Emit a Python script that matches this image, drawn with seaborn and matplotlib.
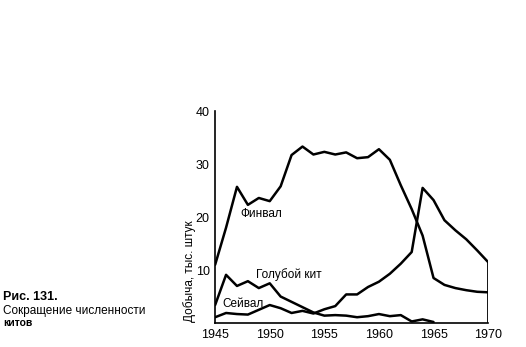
import numpy as np
import pandas as pd
import matplotlib
matplotlib.use("Agg")
import matplotlib.pyplot as plt
import seaborn as sns

years_fin = list(range(1945, 1971))
fin = [11, 18, 25.7, 22.3, 23.6, 23, 25.8, 31.7, 33.3, 31.8, 32.3, 31.8, 32.2,
       31.1, 31.3, 32.8, 30.8, 26, 21.5, 16.5, 8.5, 7.2, 6.6, 6.2, 5.9, 5.8]
years_sei = list(range(1945, 1971))
sei = [1.1, 1.9, 1.7, 1.6, 2.5, 3.4, 2.8, 1.9, 2.3, 1.8, 2.6, 3.2, 5.4, 5.4,
       6.8, 7.8, 9.3, 11.2, 13.4, 25.5, 23.2, 19.4, 17.5, 15.8, 13.7, 11.5]
years_blue = list(range(1945, 1966))
blue = [3.4, 9.1, 7.0, 7.9, 6.6, 7.5, 5.0, 4.0, 3.0, 2.0, 1.4, 1.5, 1.4, 1.1,
        1.3, 1.7, 1.3, 1.5, 0.3, 0.7, 0.2]

x_ticks = [1945, 1950, 1955, 1960, 1965, 1970]
y_ticks = [10, 20, 30, 40]
labels = {"fin": "Финвал", "blue": "Голубой кит", "sei": "Сейвал"}

df = pd.concat([
    pd.DataFrame({"year": years_fin, "catch": fin, "species": "fin"}),
    pd.DataFrame({"year": years_sei, "catch": sei, "species": "sei"}),
    pd.DataFrame({"year": years_blue, "catch": blue, "species": "blue"}),
])

sns.set_style("white")
plt.rcParams["font.family"] = ["Liberation Sans", "DejaVu Sans"]
plt.rcParams["text.color"] = "black"
plt.rcParams["xtick.color"] = "black"
plt.rcParams["ytick.color"] = "black"
plt.rcParams["axes.labelcolor"] = "black"

fig = plt.figure(figsize=(5.26, 3.47), dpi=100)
ax = fig.add_axes([0.409, 0.069, 0.519, 0.611])
sns.lineplot(data=df, x="year", y="catch", units="species", estimator=None,
             color="black", linewidth=1.8, ax=ax, legend=False)
ax.vlines(1970, 0, sei[-1], color="black", linewidth=1.3)

ax.set_xlim(1945, 1970)
ax.set_ylim(0, 40)
ax.set_xticks(x_ticks)
ax.set_yticks(y_ticks)
ax.tick_params(axis="x", direction="in", length=3, width=1, labelsize=9, pad=4)
ax.tick_params(axis="y", direction="out", length=3, width=1, labelsize=9, pad=1)
for s in ["top", "right"]:
    ax.spines[s].set_visible(False)
for s in ["left", "bottom"]:
    ax.spines[s].set_color("black")
    ax.spines[s].set_linewidth(1.2)
ax.set_xlabel("")
ax.set_ylabel("Добыча, тыс. штук", fontsize=8.5, va="center")
ax.yaxis.set_label_coords(-0.092, 0.245)
ax.set_facecolor("none")

ax.text(1947.3, 20.0, labels["fin"], fontsize=8.5)
ax.text(1948.7, 8.5, labels["blue"], fontsize=8.5)
ax.text(1945.7, 3.0, labels["sei"], fontsize=8.5)

fig.text(0.006, 0.144, "Рис. 131.", fontsize=9, fontweight="bold", va="center")
fig.text(0.006, 0.104, "Сокращение численности", fontsize=8.5, va="center")
fig.text(0.006, 0.069, "китов", fontsize=7.5, fontweight="bold", va="center")

fig.savefig("out.png", dpi=100)
